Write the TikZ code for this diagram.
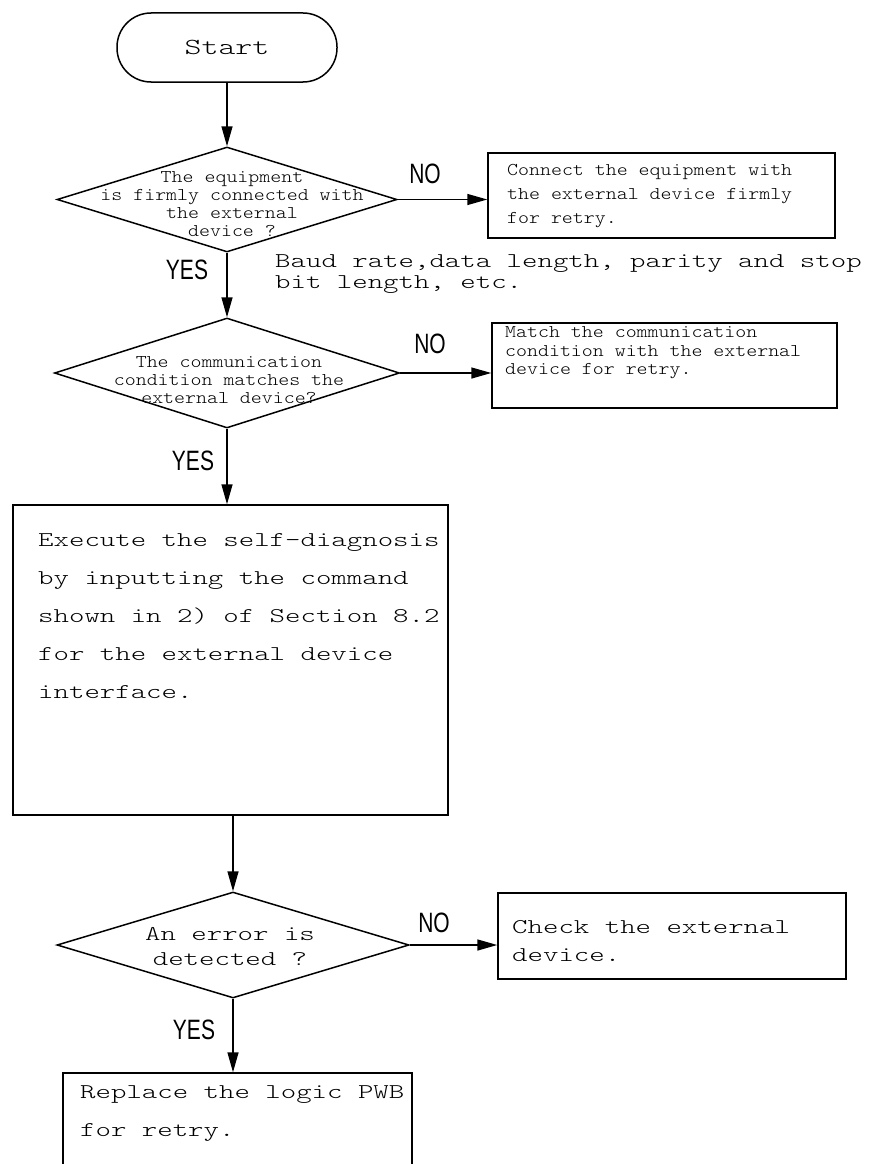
\documentclass[tikz,border=0pt]{standalone}
\usepackage{fontspec}
\setmonofont{Liberation Mono}
\newfontfamily\widemono[Extension=.otf, FakeStretch=1.4]{lmmonolt10-regular}
\newfontfamily\narrowmono[Extension=.otf, FakeStretch=1.16]{lmmonolt10-regular}
\newfontfamily\handfont{Liberation Sans}
\usetikzlibrary{shapes.geometric, arrows.meta, positioning, calc}

\newcommand{\flowtype}[2]{\widemono\fontsize{#1}{#2}\selectfont}
\newcommand{\flowsmall}[1]{\narrowmono\fontsize{18}{#1}\selectfont}

\begin{document}
\begin{tikzpicture}[x=1pt, y=-1pt,
    box/.style={draw, rectangle, line width=1.5pt, inner sep=0pt},
    dec/.style={draw, diamond, line width=1.5pt, inner sep=0pt},
    txt/.style={inner sep=0pt, align=left, anchor=west},
    lbl/.style={inner sep=0pt, font=\handfont\fontsize{28}{28}\selectfont},
    arr/.style={-{Triangle[length=20pt,width=11pt]}, line width=1.5pt}
]
\useasboundingbox (0,0) rectangle (888,1164);
\clip (0,0) rectangle (888,1164);

% main column
\node[box, rounded corners=34pt, minimum width=220, minimum height=69, font={\flowtype{23}{26}}] (start) at (227,47.5) {Start};

\node[dec, minimum width=340, minimum height=105] (conncheck) at (227,199.5) {};
\node[inner sep=0pt, align=center, font={\flowsmall{18}}] (conntxt) at (232,204) {The equipment\\is firmly connected with\\the external\\device ?};

\node[dec, minimum width=345, minimum height=110] (commcheck) at (227,373) {};
\node[inner sep=0pt, align=center, font={\flowsmall{18}}] (commtxt) at (229,380) {The communication\\condition matches the\\external device?};

\node[box, minimum width=435, minimum height=310] (exec) at (230.5,660) {};
\node[txt, font={\flowtype{21}{38}}] (exectxt) at (38,616) {Execute the self-diagnosis\\by inputting the command\\shown in 2) of Section 8.2\\for the external device\\interface.};

\node[dec, minimum width=352, minimum height=106] (errcheck) at (233,945) {};
\node[inner sep=0pt, align=center, font={\flowtype{21}{25}}] (errtxt) at (230,947) {An error is\\detected ?};

\node[box, minimum width=349, minimum height=130] (replace) at (237.5,1138) {};
\node[txt, font={\flowtype{21}{38}}] (replacetxt) at (80,1114) {Replace the logic PWB\\for retry.};

% side boxes
\node[box, minimum width=347, minimum height=85] (connfix) at (661.5,195.5) {};
\node[txt, font={\flowsmall{24}}] (connfixtxt) at (507,196) {Connect the equipment with\\the external device firmly\\for retry.};

\node[box, minimum width=345, minimum height=85] (commfix) at (664.5,365.5) {};
\node[txt, font={\flowsmall{18.5}}] (commfixtxt) at (505,353) {Match the communication\\condition with the external\\device for retry.};

\node[box, minimum width=348, minimum height=86] (checkdev) at (672,936) {};
\node[txt, font={\flowtype{21}{28}}] (checkdevtxt) at (512,941) {Check the external\\device.};

\node[txt, font={\flowtype{21}{21}}] (baud) at (275,274) {Baud rate,data length, parity and stop\\bit length, etc.};

% branch labels
\node[lbl] (yes1) at (187,270) {\scalebox{0.75}[1]{YES}};
\node[lbl] (yes2) at (193,461) {\scalebox{0.75}[1]{YES}};
\node[lbl] (yes3) at (194,1030) {\scalebox{0.75}[1]{YES}};
\node[lbl] (no1) at (425,174) {\scalebox{0.75}[1]{NO}};
\node[lbl] (no2) at (430,344) {\scalebox{0.75}[1]{NO}};
\node[lbl] (no3) at (434,923) {\scalebox{0.75}[1]{NO}};

% connectors
\draw[arr] (start) -- (conncheck);
\draw[arr] (conncheck) -- (commcheck);
\draw[arr] (commcheck.south) -- (commcheck.south |- exec.north);
\draw[arr] (exec.south -| errcheck.north) -- (errcheck.north);
\draw[arr] (errcheck.south) -- (errcheck.south |- replace.north);
\draw[arr] (conncheck.east) -- (conncheck.east -| connfix.west);
\draw[arr] (commcheck.east) -- (commcheck.east -| commfix.west);
\draw[arr] (errcheck.east) -- (errcheck.east -| checkdev.west);

\end{tikzpicture}
\end{document}
